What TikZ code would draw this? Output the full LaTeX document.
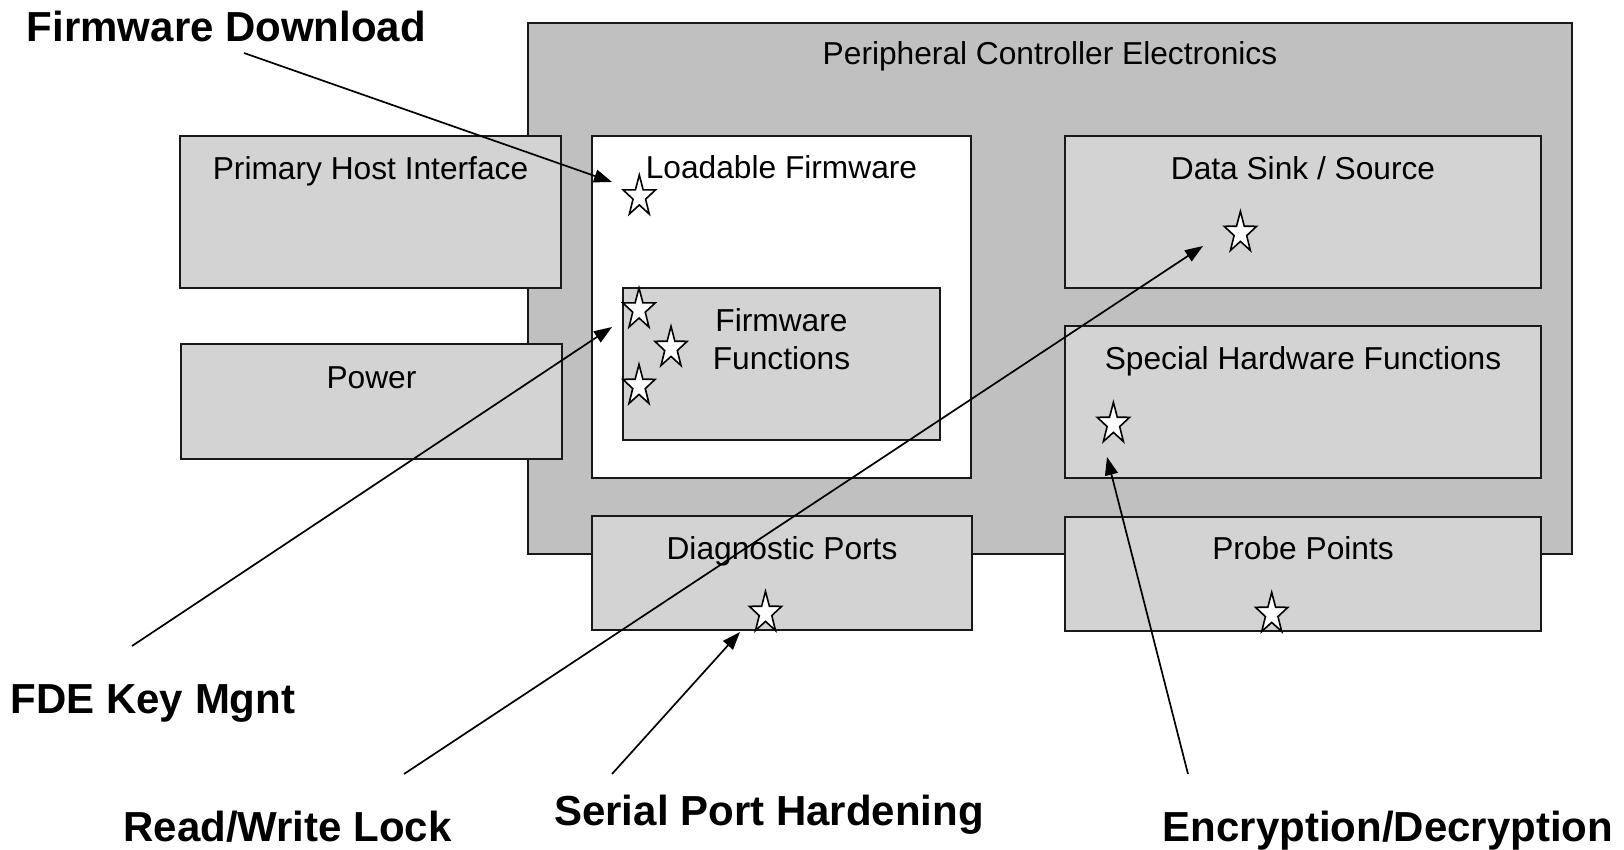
\documentclass[tikz,border=0pt]{standalone}
\usepackage{fontspec}
\setmainfont{Liberation Sans}
\usetikzlibrary{arrows.meta}
\definecolor{outergray}{RGB}{192,192,192}
\definecolor{boxgray}{RGB}{211,211,211}
\definecolor{edge}{RGB}{25,25,25}
\begin{document}
\begin{tikzpicture}[x=1pt,y=-1pt,
  every node/.style={inner sep=0pt, outer sep=0pt},
  frame/.style={draw=edge, line width=1.6pt},
  outerbox/.style={frame, fill=outergray, anchor=north west},
  graybox/.style={frame, fill=boxgray, anchor=north west},
  whitebox/.style={frame, fill=white, anchor=north west},
  boxlabel/.style={font=\fontsize{31.7}{38}\selectfont, anchor=base, align=center},
  biglabel/.style={font=\fontsize{42}{50}\selectfont\bfseries, anchor=base},
  conn/.style={line width=1.7pt, -{Triangle[length=18pt,width=13pt]}},
  pics/fstar/.style={code={
    \draw[line width=1.6pt, draw=black, fill=white, line join=miter]
      (90:17pt and 21.6pt)
      \foreach \a in {0,...,4} { -- ({126+72*\a}:6.6pt and 8.4pt) -- ({162+72*\a}:17pt and 21.6pt) } -- cycle;
  }}
]
\useasboundingbox (0,0) rectangle (1624,850);
\fill[white] (0,0) rectangle (1624,850);

% outer controller box
\node[outerbox, minimum width=1044pt, minimum height=531pt] (pce) at (528,23) {};
\node[boxlabel] (pce-t) at (1050,65) {Peripheral Controller Electronics};

% left boxes
\node[graybox, minimum width=381pt, minimum height=152pt] (phi) at (180,136) {};
\node[boxlabel] (phi-t) at (370.5,179.5) {Primary Host Interface};
\node[graybox, minimum width=381pt, minimum height=115pt] (pow) at (181,344) {};
\node[boxlabel] (pow-t) at (371.5,388.5) {Power};

% loadable firmware
\node[whitebox, minimum width=379pt, minimum height=342pt] (lf) at (592,136) {};
\node[boxlabel] (lf-t) at (781.5,179) {Loadable Firmware};
\node[graybox, minimum width=317pt, minimum height=152pt] (ff) at (623,288) {};
\node[boxlabel] (ff-t) at (781.5,369.5) {Firmware\\Functions};

% right boxes
\node[graybox, minimum width=476pt, minimum height=152pt] (ds) at (1065,136) {};
\node[boxlabel] (ds-t) at (1303,179.5) {Data Sink / Source};
\node[graybox, minimum width=476pt, minimum height=152pt] (shf) at (1065,326) {};
\node[boxlabel] (shf-t) at (1303,369.5) {Special Hardware Functions};

% bottom boxes
\node[graybox, minimum width=380pt, minimum height=114pt] (diag) at (592,516) {};
\node[boxlabel] (diag-t) at (782,559.5) {Diagnostic Ports};
\node[graybox, minimum width=476pt, minimum height=114pt] (probe) at (1065,517) {};
\node[boxlabel] (probe-t) at (1303,559.5) {Probe Points};

% stars
\pic at (639.3,196.6) {fstar};
\pic at (639,309.6) {fstar};
\pic at (671,348) {fstar};
\pic at (639,386) {fstar};
\pic at (1240.4,233) {fstar};
\pic at (1113.4,424) {fstar};
\pic at (765.5,613) {fstar};
\pic at (1271.7,614) {fstar};

% callout labels
\node[biglabel] (fd) at (226.5,41.5) {Firmware Download};
\node[biglabel] (fde) at (153,713) {FDE Key Mgnt};
\node[biglabel] (rw) at (287.5,841) {Read/Write Lock};
\node[biglabel] (sp) at (769,825.5) {Serial Port Hardening};
\node[biglabel] (ed) at (1388,841) {Encryption/Decryption};

% connector end points
\coordinate (fd-a) at (244,53);   \coordinate (fd-b) at (612,182);
\coordinate (fde-a) at (132,646); \coordinate (fde-b) at (612,327);
\coordinate (rw-a) at (404,774);  \coordinate (rw-b) at (1203,246);
\coordinate (sp-a) at (612,774);  \coordinate (sp-b) at (740,632);
\coordinate (ed-a) at (1188,774); \coordinate (ed-b) at (1107,457);

\draw[conn] (fd-a) -- (fd-b);
\draw[conn] (fde-a) -- (fde-b);
\draw[conn] (rw-a) -- (rw-b);
\draw[conn] (sp-a) -- (sp-b);
\draw[conn] (ed-a) -- (ed-b);
\end{tikzpicture}
\end{document}
